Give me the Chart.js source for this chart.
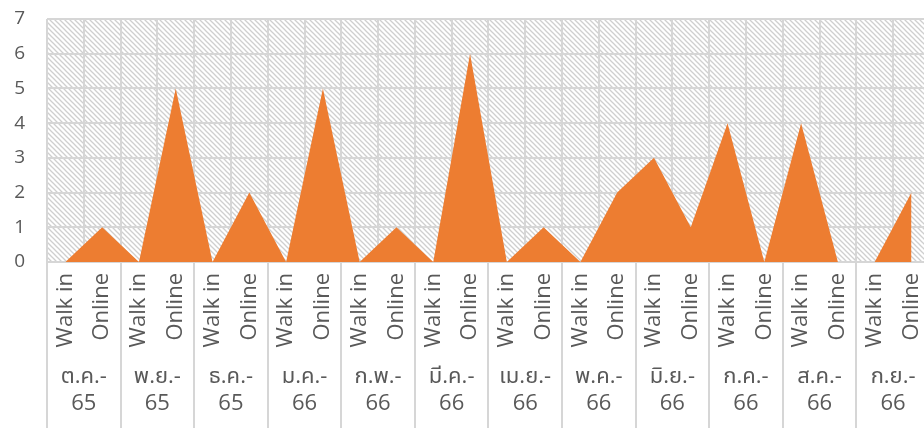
<!DOCTYPE html>
<html><head><meta charset="utf-8">
<script src="https://cdn.jsdelivr.net/npm/chart.js@4/dist/chart.umd.min.js"></script>
<style>
html,body{margin:0;padding:0;overflow:hidden;background:#fff;width:924px;height:432px}
#wrap{position:relative;width:949px;height:432px}
</style></head>
<body><div id="wrap"><canvas id="c"></canvas></div>
<script>
const subLabels = ['Walk in','Online','Walk in','Online','Walk in','Online','Walk in','Online','Walk in','Online','Walk in','Online','Walk in','Online','Walk in','Online','Walk in','Online','Walk in','Online','Walk in','Online','Walk in','Online'];
const monthLabels = [['ต.ค.-','65'],['พ.ย.-','65'],['ธ.ค.-','65'],['ม.ค.-','66'],['ก.พ.-','66'],['มี.ค.-','66'],['เม.ย.-','66'],['พ.ค.-','66'],['มิ.ย.-','66'],['ก.ค.-','66'],['ส.ค.-','66'],['ก.ย.-','66']];
const values = [0,1,0,5,0,2,0,5,0,1,0,6,0,1,0,2,3,1,4,0,4,0,0,2];
const yMin = 0, yMax = 7, yStep = 1;

const FONT = '"Open Sans","Noto Sans Thai","Leelawadee UI","Tahoma","Noto Sans",sans-serif';
const TXT = '#595959';
const GRID = '#d6d6d6';

const tile = document.createElement('canvas');
tile.width = 5; tile.height = 5;
const tc = tile.getContext('2d');
tc.fillStyle = '#ffffff'; tc.fillRect(0,0,5,5);
tc.strokeStyle = '#cfcfcf'; tc.lineWidth = 1.3;
tc.beginPath(); tc.moveTo(-1,-1); tc.lineTo(6,6); tc.stroke();
tc.beginPath(); tc.moveTo(-1,4); tc.lineTo(1,6); tc.stroke();
tc.beginPath(); tc.moveTo(4,-1); tc.lineTo(6,1); tc.stroke();

const bgPlugin = {
  id: 'bg',
  beforeDraw(chart) {
    const {ctx, chartArea: a} = chart;
    ctx.save();
    ctx.fillStyle = ctx.createPattern(tile, 'repeat');
    ctx.fillRect(a.left, a.top, a.right - a.left, a.bottom - a.top);
    ctx.restore();
  },
  afterDraw(chart) {
    const {ctx, chartArea: a} = chart;
    const xs = chart.scales.x;
    const half = (xs.getPixelForValue(1) - xs.getPixelForValue(0)) / 2;
    ctx.save();
    ctx.strokeStyle = GRID; ctx.lineWidth = 2;
    for (let i = 0; i <= subLabels.length; i += 2) {
      const x = Math.round((i < subLabels.length ? xs.getPixelForValue(i) : xs.getPixelForValue(i - 1) + 2 * half) - half);
      ctx.beginPath(); ctx.moveTo(x, a.bottom); ctx.lineTo(x, chart.height - 4); ctx.stroke();
    }
    ctx.restore();
  }
};

new Chart(document.getElementById('c'), {
  type: 'line',
  data: {
    labels: subLabels,
    datasets: [{
      data: values,
      fill: 'origin',
      backgroundColor: '#ED7D31',
      borderColor: '#ED7D31',
      borderWidth: 0,
      pointRadius: 0,
      tension: 0
    }]
  },
  options: {
    responsive: true,
    maintainAspectRatio: false,
    animation: false,
    layout: { padding: { left: 0, right: 6, top: 0, bottom: 5 } },
    plugins: { legend: { display: false }, tooltip: { enabled: false } },
    scales: {
      x: {
        type: 'category',
        offset: true,
        grid: { display: true, offset: true, color: GRID, lineWidth: 2, drawTicks: false },
        border: { display: false },
        afterFit(scale) { scale.height = 88; },
        ticks: { font: { family: FONT, size: 22 }, color: TXT, minRotation: 90, maxRotation: 90, autoSkip: false, padding: 11 }
      },
      x2: {
        type: 'category',
        position: 'bottom',
        labels: monthLabels,
        offset: true,
        grid: { display: false, drawTicks: false },
        border: { display: false },
        afterFit(scale) { scale.height = 77; },
        ticks: { font: { family: FONT, size: 22, lineHeight: 1.24 }, color: TXT, maxRotation: 0, autoSkip: false, padding: 13 }
      },
      y: {
        min: yMin, max: yMax,
        grid: { color: GRID, lineWidth: 2, drawTicks: false },
        border: { display: false },
        afterFit(scale) { scale.width = 47; scale.paddingTop = 19; scale.paddingBottom = 12; },
        ticks: { stepSize: yStep, font: { family: FONT, size: 19 }, color: TXT, padding: 22 }
      }
    }
  },
  plugins: [bgPlugin]
});
</script>
</body></html>
